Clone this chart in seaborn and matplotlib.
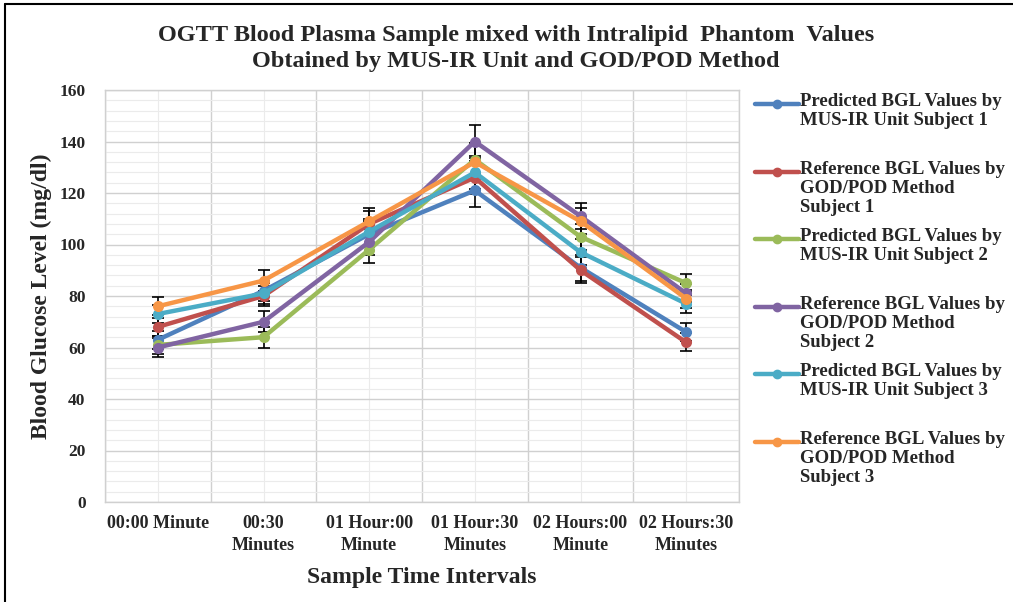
import pandas as pd
import matplotlib.pyplot as plt
import matplotlib.lines as mlines
import numpy as np
import seaborn as sns

times = ['00:00 Minute', '00:30\nMinutes', '01 Hour:00\nMinute',
         '01 Hour:30\nMinutes', '02 Hours:00\nMinute', '02 Hours:30\nMinutes']

pred_s1 = [63, 82, 104, 121, 91, 66]
ref_s1 = [68, 80, 108, 126, 90, 62]
pred_s2 = [61, 64, 98, 133, 103, 85]
ref_s2 = [60, 70, 101, 140, 111, 81]
pred_s3 = [73, 81, 105, 128, 97, 77]
ref_s3 = [76, 86, 109, 132, 109, 79]

# error bar half widths per time point
err = [3.5, 4, 5, 6.5, 5, 3.5]

labels = ['Predicted BGL Values by\nMUS-IR Unit Subject 1',
          'Reference BGL Values by\nGOD/POD Method\nSubject 1',
          'Predicted BGL Values by\nMUS-IR Unit Subject 2',
          'Reference BGL Values by\nGOD/POD Method\nSubject 2',
          'Predicted BGL Values by\nMUS-IR Unit Subject 3',
          'Reference BGL Values by\nGOD/POD Method\nSubject 3']
colors = ['#4F81BD', '#C0504D', '#9BBB59', '#8064A2', '#4BACC6', '#F79646']

series = [pred_s1, ref_s1, pred_s2, ref_s2, pred_s3, ref_s3]
rows = []
for lab, vals in zip(labels, series):
    for t, v in zip(times, vals):
        rows.append({'time': t, 'bgl': v, 'series': lab})
df = pd.DataFrame(rows)

sns.set_style('white')
plt.rcParams['font.family'] = ['Liberation Serif', 'DejaVu Serif']
plt.rcParams['font.weight'] = 'bold'

W, H = 1013, 602
fig = plt.figure(figsize=(W / 100, H / 100), dpi=100)
ax = fig.add_axes([105 / W, 1 - 502 / H, 634 / W, 412 / H])

# black error bars sitting under the lines
for vals in series:
    ax.errorbar(np.arange(len(times)), vals, yerr=err, fmt='none', ecolor='black',
                elinewidth=1.2, capsize=4, capthick=1.2, zorder=2)

sns.lineplot(data=df, x='time', y='bgl', hue='series', palette=colors, sort=False,
             marker='o', markersize=8, markeredgewidth=0, linewidth=3.2, ax=ax,
             zorder=3, legend=False)

ax.set_xlim(-0.5, len(times) - 0.5)
ax.set_ylim(0, 160)
ax.set_yticks(np.arange(0, 161, 20))
ax.set_yticks(np.arange(0, 161, 4), minor=True)
ax.set_xticks(np.arange(len(times)))
ax.set_xticklabels(times, fontsize=13, fontweight='bold', linespacing=1.45)
ax.set_xticks(np.arange(-0.5, len(times)), minor=True)
for lab in ax.get_yticklabels():
    lab.set_fontsize(12.5)
    lab.set_fontweight('bold')

ax.grid(which='major', axis='y', color='#D0D0D0', linewidth=1.0)
ax.grid(which='minor', axis='y', color='#EBEBEB', linewidth=0.8)
ax.grid(which='minor', axis='x', color='#D0D0D0', linewidth=1.0)
ax.grid(which='major', axis='x', color='#EBEBEB', linewidth=0.8)
ax.set_axisbelow(True)
ax.tick_params(axis='x', which='both', length=0, pad=9)
ax.tick_params(axis='y', which='both', length=0, pad=14)
for sp in ax.spines.values():
    sp.set_color('#D0D0D0')
    sp.set_linewidth(1.0)

ax.set_xlabel('Sample Time Intervals', fontsize=17, fontweight='bold', labelpad=9)
ax.set_ylabel('Blood Glucose Level (mg/dl)', fontsize=17, fontweight='bold', labelpad=5)

fig.text(516 / W, 1 - 35 / H, 'OGTT Blood Plasma Sample mixed with Intralipid  Phantom  Values',
         ha='center', va='center', fontsize=17.5, fontweight='bold')
fig.text(516 / W, 1 - 62 / H, 'Obtained by MUS-IR Unit and GOD/POD Method',
         ha='center', va='center', fontsize=17.5, fontweight='bold')

# legend drawn by hand so each handle sits on the first text line
for i, (lab, c) in enumerate(zip(labels, colors)):
    yy = 1 - (104 + 67.6 * i) / H
    fig.add_artist(mlines.Line2D([755 / W, 799 / W], [yy, yy], color=c, linewidth=3.2,
                                 transform=fig.transFigure))
    fig.add_artist(mlines.Line2D([777 / W], [yy], color=c, marker='o', markersize=6,
                                 transform=fig.transFigure))
    fig.text(800 / W, yy + 11 / H, lab, ha='left', va='top', fontsize=13.5,
             fontweight='bold', linespacing=1.15)

# frame lines on the left and top of the picture
fig.add_artist(mlines.Line2D([0.005, 0.005], [0, 0.993], color='black', linewidth=1.5,
                             transform=fig.transFigure))
fig.add_artist(mlines.Line2D([0.005, 1], [0.993, 0.993], color='black', linewidth=1.5,
                             transform=fig.transFigure))

fig.savefig('out.png', dpi=100)
